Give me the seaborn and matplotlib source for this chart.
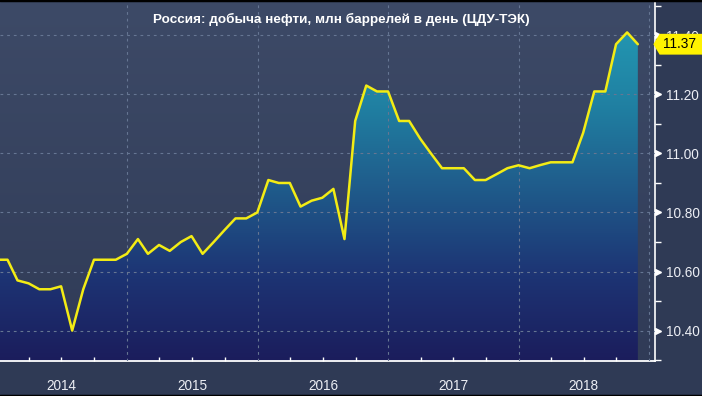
import numpy as np
import pandas as pd
import matplotlib
matplotlib.use("Agg")
import matplotlib.pyplot as plt
import seaborn as sns
import matplotlib.dates as mdates
from matplotlib.colors import LinearSegmentedColormap
from matplotlib.lines import Line2D
from matplotlib.path import Path
from matplotlib.transforms import blended_transform_factory, offset_copy

# ---------------- data ----------------
title = "Россия: добыча нефти, млн баррелей в день (ЦДУ-ТЭК)"
first_month_end = "2013-12-31"
values_2013 = [10.64]
values_2014 = [10.64, 10.57, 10.56, 10.54, 10.54, 10.55, 10.40, 10.54, 10.64, 10.64, 10.64, 10.66]
values_2015 = [10.71, 10.66, 10.69, 10.67, 10.70, 10.72, 10.66, 10.70, 10.74, 10.78, 10.78, 10.80]
values_2016 = [10.91, 10.90, 10.90, 10.82, 10.84, 10.85, 10.88, 10.71, 11.11, 11.23, 11.21, 11.21]
values_2017 = [11.11, 11.11, 11.05, 11.00, 10.95, 10.95, 10.95, 10.91, 10.91, 10.93, 10.95, 10.96]
values_2018 = [10.95, 10.96, 10.97, 10.97, 10.97, 11.07, 11.21, 11.21, 11.37, 11.41, 11.37]
last_label = "11.37"
y_ticks = [10.40, 10.60, 10.80, 11.00, 11.20, 11.40]
y_tick_labels = ["10.40", "10.60", "10.80", "11.00", "11.20", "11.40"]
years = [2014, 2015, 2016, 2017, 2018]

values = values_2013 + values_2014 + values_2015 + values_2016 + values_2017 + values_2018
dates = pd.date_range(first_month_end, periods=len(values), freq="ME")
df = pd.DataFrame({"date": dates, "value": values})

# ---------------- style ----------------
sns.set_theme(style="dark")
plt.rcParams["font.family"] = ["Liberation Sans", "DejaVu Sans"]

BG_OUT = "#2f3a55"
GRID = "#667693"
LINE = "#f3ec14"
TXT = "#eceef4"

fig = plt.figure(figsize=(7.02, 3.96), dpi=100, facecolor=BG_OUT)
ax = fig.add_axes([0.0, 35 / 396, 655 / 702, 359 / 396])

xmin = pd.Timestamp("2014-01-10")
xmax = pd.Timestamp("2019-01-17")
ymin, ymax = 10.297, 11.513
ext = [mdates.date2num(xmin), mdates.date2num(xmax), ymin, ymax]

# background vertical gradient
bg_cmap = LinearSegmentedColormap.from_list("bg", ["#303b57", "#3d4a67"])
grad = np.linspace(0, 1, 256).reshape(-1, 1)
ax.imshow(grad, extent=ext, origin="lower", aspect="auto", cmap=bg_cmap, zorder=0)

# gradient fill under the line
poly = ax.fill_between(df["date"], df["value"], ymin, color="none", lw=0)
cmap = LinearSegmentedColormap.from_list(
    "fill", ["#1b1d5c", "#1d3474", "#1f5a8a", "#2080a2", "#2399b3"])
im = ax.imshow(grad, extent=[ext[0], ext[1], ymin, 11.45],
               origin="lower", aspect="auto", cmap=cmap, zorder=1)
im.set_clip_path(poly.get_paths()[0], transform=ax.transData)

sns.lineplot(data=df, x="date", y="value", color=LINE, lw=1.8, ax=ax, zorder=3)

ax.set_xlim(xmin, xmax)
ax.set_ylim(ymin, ymax)
ax.set_xlabel("")
ax.set_ylabel("")

# grid
ax.set_yticks(y_ticks)
ax.set_yticklabels(y_tick_labels)
ax.yaxis.set_minor_locator(matplotlib.ticker.MultipleLocator(0.1))
ax.xaxis.set_major_locator(mdates.YearLocator())
ax.xaxis.set_minor_locator(mdates.MonthLocator(bymonth=[4, 7, 10]))
ax.grid(True, which="major", axis="both", color=GRID, lw=0.8, ls=(0, (2.5, 3.5)), zorder=2)
ax.set_axisbelow(False)

# spines
for s in ["left", "top"]:
    ax.spines[s].set_visible(False)
ax.spines["right"].set_color("white")
ax.spines["right"].set_linewidth(1.2)
ax.spines["bottom"].set_color("white")
ax.spines["bottom"].set_linewidth(1.3)

# y axis on right
ax.yaxis.tick_right()
ax.tick_params(axis="y", which="major", length=0, pad=8, labelsize=9.8, labelcolor=TXT)
ax.tick_params(axis="y", which="minor", length=4, width=1, color="white", direction="out", right=True)
blend_y = blended_transform_factory(ax.transAxes, ax.transData)
tri_tr = offset_copy(blend_y, fig=fig, x=3, y=0, units="dots")
ax.plot([1.0] * len(y_ticks), y_ticks, ls="none", marker=">", ms=4.5, color="white",
        transform=tri_tr, clip_on=False, zorder=5)

# x axis
ax.tick_params(axis="x", which="major", length=36, width=1, color="#8793a9",
               direction="out", labelbottom=False)
ax.tick_params(axis="x", which="minor", length=3, width=1, color="white",
               direction="in", bottom=True)
blend_x = blended_transform_factory(ax.transData, ax.transAxes)
for yr in years:
    ax.text(mdates.date2num(pd.Timestamp(f"{yr}-07-02")), -25 / 359, str(yr),
            transform=blend_x, ha="center", va="center", fontsize=9.8,
            color=TXT, clip_on=False)

# last value tag
def tag_box(x0, y0, width, height, mutation_size):
    pad = 0.25 * mutation_size
    x0 -= pad
    y0 -= pad
    w = width + 2 * pad
    h = height + 2 * pad
    tip = 0.3 * h
    verts = [(x0, y0), (x0 + w + 20, y0), (x0 + w + 20, y0 + h), (x0, y0 + h),
             (x0 - tip, y0 + h / 2), (x0, y0)]
    codes = [Path.MOVETO] + [Path.LINETO] * 4 + [Path.CLOSEPOLY]
    return Path(verts, codes)

lab_tr = offset_copy(blend_y, fig=fig, x=8, y=0, units="dots")
ax.text(1.0, values[-1], last_label, transform=lab_tr, ha="left", va="center",
        fontsize=9.8, color="black", clip_on=False, zorder=10,
        bbox=dict(boxstyle=tag_box, fc="#fff200", ec="none"))

# title
fig.text(341.5 / 702, 1 - 19.5 / 396, title, ha="center", va="center", color="white",
         fontsize=9.7, fontweight="bold")

# thin black edges at top and bottom
for yy in (0.0, 1.0):
    fig.add_artist(Line2D([0, 1], [yy, yy], transform=fig.transFigure, color="black", lw=2.5))

fig.savefig("out.png", dpi=100, facecolor=BG_OUT)
